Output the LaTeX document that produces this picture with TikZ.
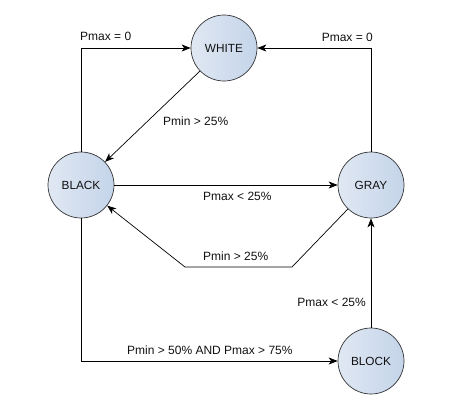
\documentclass[tikz,border=0pt]{standalone}
\usepackage{fontspec}
\setmainfont{Liberation Sans}
\usepackage{xcolor}
\usepackage{tikz}
\usetikzlibrary{positioning,calc,arrows.meta}
\definecolor{rim}{HTML}{333333}
\definecolor{iceA}{HTML}{E0E8F3}
\definecolor{iceB}{HTML}{C4D4E9}
\definecolor{ink}{HTML}{111111}

\begin{document}
\begin{tikzpicture}[x=1pt,y=-1pt,
  state/.style={circle,draw=rim,line width=0.7pt,left color=iceA,right color=iceB,
    minimum size=66pt,inner sep=0pt,font=\fontsize{11.8}{14}\selectfont,text=ink},
  cond/.style={font=\fontsize{12}{14}\selectfont,text=ink,inner sep=0pt},
  flow/.style={-{Stealth[length=9pt,width=7pt,inset=2.5pt]},draw=black,line width=0.7pt}]
  \useasboundingbox (0,0) rectangle (452,410);
  % states
  \node[state] (white) at (224,48)  {WHITE};
  \node[state] (black) at (81,185)  {BLACK};
  \node[state] (gray)  at (371,185) {GRAY};
  \node[state] (block) at (371,361) {BLOCK};
  % bend points of the way back from gray
  \coordinate (g1) at (292,267);
  \coordinate (g2) at (185,267);
  % transitions
  \draw[flow] (black.north) |- (white.west);
  \draw[flow] (gray.north) |- (white.east);
  \draw[flow] (white) -- (black);
  \draw[flow] (black.east) -- (gray.west);
  \draw[flow] (gray) -- (g1) -- (g2) -- (black);
  \draw[flow] (black.south) |- (block.west);
  \draw[flow] (block.north) -- (gray.south);
  % conditions
  \node[cond,anchor=west] (c1) at (80,36)   {Pmax = 0};
  \node[cond,anchor=east] (c2) at (373,37)  {Pmax = 0};
  \node[cond,anchor=west] (c3) at (163,121) {Pmin > 25\%};
  \node[cond,anchor=west] (c4) at (203,196) {Pmax < 25\%};
  \node[cond,anchor=west] (c5) at (203,256) {Pmin > 25\%};
  \node[cond,anchor=east] (c6) at (366,302) {Pmax < 25\%};
  \node[cond,anchor=west] (c7) at (127,350) {Pmin > 50\% AND Pmax > 75\%};
\end{tikzpicture}
\end{document}
